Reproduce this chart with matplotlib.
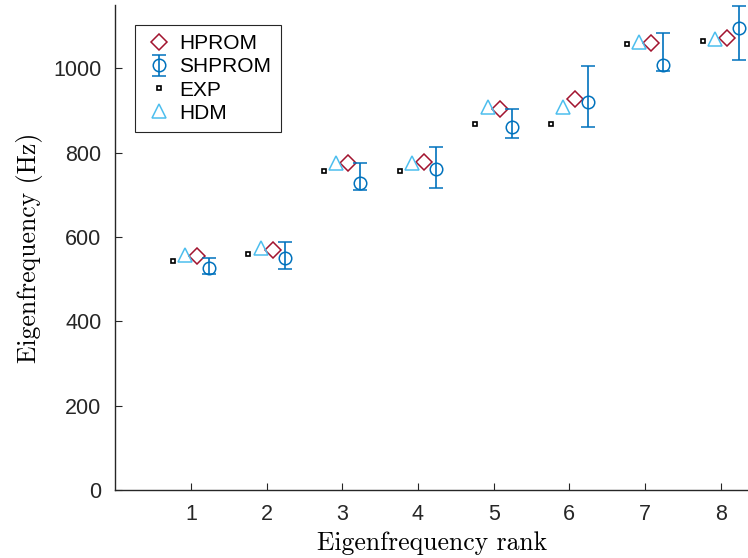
import numpy as np
import matplotlib
matplotlib.use("Agg")
import matplotlib.pyplot as plt

ranks = np.arange(1, 9)
exp_freq = [543, 559, 756, 756, 869, 869, 1058, 1064]
hdm_freq = [557, 573, 775, 775, 908, 908, 1062, 1069]
hprom_freq = [555, 569, 775, 777, 904, 928, 1061, 1072]
shprom_freq = [527, 549, 727, 761, 861, 919, 1007, 1096]
shprom_lo = [513, 523, 711, 716, 835, 860, 994, 1019]
shprom_hi = [549, 587, 775, 813, 904, 1005, 1084, 1147]

c_hprom = "#A2142F"
c_shprom = "#0072BD"
c_hdm = "#4DBEEE"

plt.rcParams["font.family"] = ["Liberation Sans", "DejaVu Sans"]

fig = plt.figure(figsize=(7.48, 5.58), dpi=100)
ax = fig.add_axes([0.154, 0.122, 0.846, 0.869])

shp = np.array(shprom_freq)
yerr = [shp - np.array(shprom_lo), np.array(shprom_hi) - shp]

h1, = ax.plot(ranks + 0.08, hprom_freq, "D", ms=8.5, mfc="none", mec=c_hprom, mew=1.1,
              ls="none", label="HPROM")
h2 = ax.errorbar(ranks + 0.24, shprom_freq, yerr=yerr, fmt="o", ms=9, mfc="none",
                 mec=c_shprom, ecolor=c_shprom, elinewidth=1.2, capsize=5, capthick=1.2,
                 mew=1.1, label="SHPROM")
h3, = ax.plot(ranks - 0.24, exp_freq, "s", ms=3, mfc="white", mec="black", mew=1.2,
              ls="none", label="EXP")
h4, = ax.plot(ranks - 0.08, hdm_freq, "^", ms=10, mfc="none", mec=c_hdm, mew=1.1,
              ls="none", label="HDM")

ax.set_xlim(0, 8.36)
ax.set_ylim(0, 1150)
ax.set_xticks(ranks)
ax.set_yticks(np.arange(0, 1001, 200))
for s in ["top", "right"]:
    ax.spines[s].set_visible(False)
for s in ["left", "bottom"]:
    ax.spines[s].set_color("#262626")
    ax.spines[s].set_linewidth(1.0)
ax.tick_params(direction="in", length=5, labelsize=15.5, colors="#262626", pad=10)

ax.set_xlabel("Eigenfrequency rank", fontfamily="cmr10", fontsize=18.5, labelpad=5)
ax.set_ylabel("Eigenfrequency (Hz)", fontfamily="cmr10", fontsize=18.5, labelpad=7)

leg = ax.legend([h1, h2, h3, h4], ["HPROM", "SHPROM", "EXP", "HDM"],
                loc="upper left", bbox_to_anchor=(0.032, 0.959), borderaxespad=0,
                fontsize=15, fancybox=False, framealpha=1, edgecolor="#262626",
                handletextpad=0.3, borderpad=0.45, labelspacing=0.2,
                handlelength=1.35)
leg.get_frame().set_linewidth(0.8)

fig.savefig("out.png", dpi=100)
